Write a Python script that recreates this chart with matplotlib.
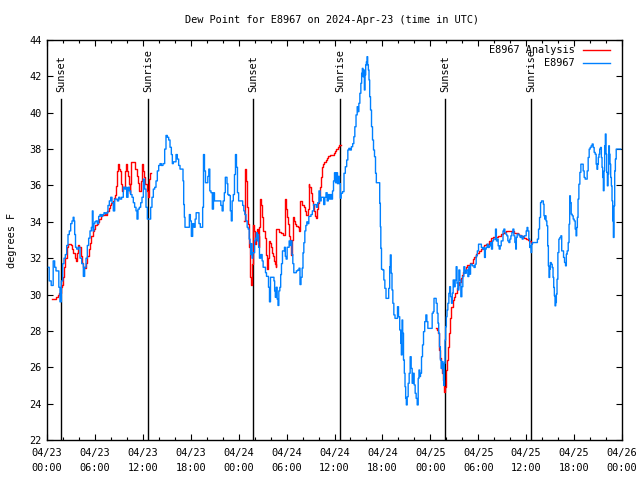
import numpy as np
import matplotlib
matplotlib.use("Agg")
import matplotlib.pyplot as plt
from matplotlib.ticker import MultipleLocator

# ---------------- data (hours since 2024-04-23 00:00 UTC, degrees F) ----------------
obs_t = [0.17, 0.38, 0.67, 0.88, 1.04, 1.21, 1.42, 1.54, 1.71, 1.88, 2.05, 2.21, 2.38, 2.55, 2.71, 2.88,
         3.05, 3.21, 3.34, 3.42, 3.51, 3.63, 3.80, 4.05, 4.22, 4.47, 4.63, 4.80, 4.97, 5.13, 5.30, 5.47,
         5.64, 5.72, 5.80, 5.93, 6.05, 6.22, 6.39, 6.55, 6.72, 6.89, 7.05, 7.22, 7.39, 7.55, 7.72, 7.89,
         8.06, 8.22, 8.39, 8.56, 8.72, 8.89, 9.06, 9.22, 9.47, 9.64, 9.81, 9.89, 10.06, 10.23, 10.39,
         10.56, 10.73, 10.89, 11.06, 11.23, 11.31, 11.48, 11.65, 11.81, 11.98, 12.15, 12.31, 12.48, 12.65,
         12.90, 13.06, 13.23, 13.40, 13.57, 13.73, 13.90, 14.07, 14.23, 14.40, 14.65, 14.82, 14.98, 15.15,
         15.32, 15.49, 15.65, 15.74, 15.90, 16.07, 16.24, 16.40, 16.57, 16.74, 16.99, 17.07, 17.16, 17.24,
         17.32, 17.49, 17.74, 17.91, 17.99, 18.16, 18.32, 18.49,
         18.61, 18.74, 18.95, 19.11, 19.28, 19.45, 19.53, 19.66, 19.78, 19.91, 20.07, 20.20, 20.32, 20.45,
         20.62, 20.78, 20.91, 21.03, 21.24, 21.45, 21.66, 21.87, 21.99, 22.12, 22.29, 22.37, 22.50, 22.58,
         22.70, 22.87, 23.04, 23.12, 23.25, 23.41, 23.54, 23.66, 23.79, 23.91, 24.08, 24.25, 24.42, 24.58,
         24.71, 24.83, 25.00, 25.13, 25.25, 25.38, 25.46, 25.54, 25.63, 25.71, 25.83, 25.96, 26.04, 26.17,
         26.29, 26.38, 26.46, 26.54, 26.67, 26.88, 27.00, 27.13, 27.30, 27.42, 27.55, 27.67, 27.80, 27.92,
         28.05, 28.21, 28.38, 28.46, 28.55, 28.63, 28.76, 28.88, 28.97, 29.09, 29.22, 29.30, 29.42, 29.55,
         29.67, 29.80, 29.88, 30.01, 30.13, 30.26, 30.38, 30.51, 30.63, 30.72, 30.84, 30.97, 31.14, 31.30,
         31.47, 31.64, 31.72, 31.89, 32.01, 32.10, 32.22, 32.35, 32.47, 32.60, 32.72, 32.85, 32.97, 33.14,
         33.31, 33.47, 33.64, 33.81, 33.97, 34.14, 34.27, 34.39, 34.56, 34.73, 34.85, 35.02, 35.14, 35.31,
         35.43, 35.56, 35.69, 35.81, 35.94, 36.06, 36.19, 36.31, 36.44, 36.56, 36.69,
         36.77, 36.90, 37.11, 37.27, 37.44, 37.61, 37.73, 37.86, 38.03, 38.19, 38.36, 38.48, 38.61, 38.78,
         38.90, 38.99, 39.11, 39.24, 39.36, 39.44, 39.53, 39.61, 39.70, 39.78, 39.86, 39.95, 40.03, 40.11,
         40.20, 40.28, 40.36, 40.45, 40.57, 40.70, 40.82, 40.95, 41.07, 41.20, 41.28, 41.62, 41.70, 41.78,
         41.82, 41.95, 42.12, 42.24, 42.37, 42.53, 42.70, 42.87, 42.95, 43.03, 43.16, 43.24, 43.37, 43.49,
         43.66, 43.83, 43.95, 44.08, 44.25, 44.33, 44.41, 44.50, 44.58, 44.70, 44.79, 44.87, 44.95, 45.04,
         45.16, 45.29, 45.41, 45.54, 45.66, 45.79, 45.91, 46.04, 46.16, 46.29, 46.42, 46.54, 46.62, 46.71,
         46.83, 46.96, 47.08, 47.21, 47.38, 47.50, 47.63, 47.75, 48.17, 48.29, 48.42, 48.50, 48.67, 48.79,
         48.92, 49.00, 49.09, 49.21, 49.30, 49.42, 49.55, 49.63, 49.71, 49.80, 49.88, 49.96, 50.05, 50.13,
         50.26, 50.38, 50.46, 50.59, 50.71, 50.80, 50.92, 51.05, 51.17, 51.30, 51.38, 51.51, 51.63, 51.76,
         51.88, 52.01, 52.13, 52.26, 52.38, 52.63, 52.76, 52.88,
         52.97, 53.10, 53.39, 53.55, 53.68, 53.80, 53.97, 54.10, 54.31, 54.47, 54.60, 54.72, 54.85, 54.93,
         55.06, 55.18, 55.31, 55.47, 55.60, 55.72, 55.85, 55.98, 56.10, 56.23, 56.31, 56.43, 56.56, 56.68,
         56.81, 56.94, 57.06, 57.14, 57.27, 57.39, 57.52, 57.64, 57.77, 57.90, 58.02, 58.15, 58.27, 58.40,
         58.52, 58.65, 58.73, 58.81, 58.94, 59.06, 59.19, 59.31, 59.44, 59.56, 59.69, 59.82, 59.94, 60.07,
         60.15, 60.27, 60.40, 60.48, 60.57, 60.65, 60.73, 60.82, 61.15, 61.32, 61.49, 61.61, 61.74, 61.86,
         61.99, 62.11, 62.19, 62.28, 62.36, 62.44, 62.53, 62.65, 62.74, 62.82, 62.90, 62.99, 63.07, 63.20,
         63.32, 63.41, 63.49, 63.57, 63.66, 63.74, 63.82, 63.91, 64.03, 64.16, 64.28, 64.41, 64.49, 64.62,
         64.74, 64.87, 64.99, 65.07, 65.20, 65.33, 65.41, 65.49, 65.58, 65.70, 65.83, 65.95, 66.08, 66.20,
         66.29, 66.37, 66.45, 66.54, 66.66, 66.79, 66.91, 67.08, 67.20, 67.33, 67.45, 67.58, 67.70, 67.83,
         67.95, 68.08, 68.20, 68.33, 68.45, 68.58, 68.70, 68.83, 68.91, 68.99, 69.08, 69.16, 69.25, 69.37,
         69.46, 69.54, 69.62, 69.71, 69.79, 69.87, 69.96, 70.04, 70.13, 70.21, 70.29, 70.38, 70.46, 70.54,
         70.63, 70.71, 70.79, 70.88, 70.96, 71.04, 71.13, 71.21, 71.34, 71.84]
obs_v = [31.5, 30.75, 30.5, 31.85, 31.5, 31.3, 31.3, 30.4, 29.6, 30.75, 31.7, 32.0, 32.2, 32.7, 33.3, 33.5,
         33.9, 34.05, 34.25, 34.05, 33.3, 32.6, 32.5, 32.6, 32.0, 31.7, 31.0, 31.5, 32.0, 32.7, 33.1, 33.5,
         33.7, 34.6, 33.5, 33.9, 34.0, 34.05, 33.9, 34.3, 34.4, 34.3, 34.4, 34.5, 34.45, 34.5, 34.9, 35.15,
         35.35, 35.05, 34.6, 35.25, 35.25, 35.15, 35.35, 35.25, 35.35, 35.9, 35.8, 35.9, 35.35, 35.9, 35.7,
         35.5, 35.35, 35.05, 34.8, 34.6, 34.15, 34.7, 34.8, 35.05, 35.35, 36.35, 35.8, 34.8, 34.15,
         34.15, 34.8, 35.35, 35.8, 35.9, 36.25, 36.8, 37.1, 37.2, 37.1, 37.2, 38.0, 38.75, 38.65,
         38.5, 38.1, 37.7, 37.2, 37.3, 37.3, 37.7, 37.45, 37.1, 36.9, 36.9, 36.25, 34.95, 34.25,
         33.7, 33.7, 33.7, 34.4, 34.05, 33.2, 33.9, 33.7,
         34.15, 34.5, 34.5, 33.9, 33.7, 33.7, 34.8, 37.7, 36.8, 36.15, 36.15, 36.5, 36.9, 35.7,
         35.6, 34.7, 35.6, 35.15, 35.15, 35.15, 35.15, 34.9, 34.6, 35.15, 35.6, 36.45, 36.45, 36.1,
         35.5, 35.45, 34.6, 34.05, 35.15, 35.5, 36.6, 37.7, 37.0, 35.6, 35.15, 35.15, 35.15, 34.9,
         34.6, 34.4, 34.05, 33.7, 33.6, 33.05, 32.8, 32.2, 32.8, 32.0, 32.3, 32.3, 32.95, 33.1,
         33.4, 32.95, 33.3, 32.6, 32.0, 32.2, 31.85, 31.5, 31.5, 31.2, 31.0, 31.0, 30.4, 29.6,
         30.95, 30.95, 30.95, 30.75, 30.2, 29.85, 30.4, 29.75, 29.4, 30.2, 30.4, 31.1, 31.7, 32.4,
         32.4, 32.6, 32.1, 31.95, 32.6, 32.6, 32.95, 32.7, 32.95, 32.2, 31.7, 31.2, 31.2, 31.3,
         31.35, 31.45, 30.55, 30.95, 31.45, 32.3, 32.85, 33.5, 33.8, 34.0, 33.9, 34.3, 34.3, 34.4,
         34.6, 34.95, 34.95, 34.8, 35.05, 35.7, 35.15, 35.35, 35.35, 34.95, 35.35, 35.6, 35.15, 35.5,
         35.25, 35.5, 35.25, 35.7, 36.25, 36.7, 36.15, 36.7, 36.1, 36.5, 36.1,
         35.3, 35.57, 35.66, 36.67, 37.03, 37.4, 37.95, 38.04, 37.95, 38.13, 38.3, 38.68, 39.23, 39.88,
         40.33, 40.06, 40.52, 41.07, 41.62, 42.17, 42.44, 41.98, 42.35, 41.25, 42.08, 42.63, 42.8, 43.08,
         42.63, 42.35, 41.8, 40.88, 40.15, 39.23, 38.5, 37.95, 37.58, 36.67, 36.15, 36.15, 35.02, 33.73,
         32.54, 31.39, 31.35, 30.8, 30.34, 29.79, 29.79, 30.34, 31.53, 32.18, 31.17, 30.25, 29.52, 28.88,
         28.69, 28.69, 29.33, 28.78, 28.05, 27.32, 26.68, 28.6, 27.87, 26.4, 25.67, 24.93, 24.29, 23.93,
         24.38, 25.12, 25.67, 26.58, 25.94, 25.12, 25.67, 25.03, 24.57, 24.29, 23.93, 25.39, 25.85, 25.49,
         25.67, 26.58, 27.23, 27.96, 28.51, 28.88, 28.51, 28.14, 28.14, 28.97, 29.06, 29.79, 29.79, 29.52,
         28.97, 28.42, 27.87, 27.13, 26.4, 25.94, 26.31, 25.67, 25.0, 26.22, 27.5, 28.23, 28.78, 29.15,
         29.52, 30.07, 30.43, 29.88, 29.52, 30.07, 30.8, 30.43, 30.8, 31.53, 30.62, 30.25, 31.35, 30.8,
         29.88, 30.43, 30.99, 31.53, 31.17, 31.35, 30.99, 31.53,
         31.12, 31.67, 31.58, 31.49, 31.67, 32.13, 32.4, 32.77, 32.77, 32.59, 32.5, 32.59, 32.04, 32.5,
         32.59, 32.77, 32.59, 32.68, 32.86, 32.5, 32.95, 33.05, 33.05, 33.6, 32.95, 33.05, 32.68, 32.5,
         32.68, 32.95, 32.95, 33.5, 33.6, 33.41, 33.32, 33.23, 32.95, 32.86, 33.05, 33.23, 33.41, 33.6,
         33.23, 32.86, 32.5, 33.14, 33.32, 33.32, 33.23, 33.14, 33.23, 33.05, 33.14, 33.23, 33.23, 33.5,
         33.69, 33.5, 33.05, 32.59, 32.68, 32.31, 32.77, 32.86, 32.86, 32.86, 33.05, 33.6, 34.24, 35.06,
         35.15, 35.15, 34.97, 34.33, 34.15, 34.33, 34.05, 33.78, 32.68, 31.58, 30.94, 31.4, 31.76, 31.67,
         31.49, 30.94, 30.39, 29.93, 29.38, 29.56, 30.02, 30.84, 32.31, 33.05, 33.14, 33.23, 32.4, 32.4,
         32.04, 31.76, 31.58, 32.22, 32.4, 32.86, 33.87, 35.43, 35.06, 34.42, 34.33, 34.15, 34.05, 33.6,
         33.23, 33.69, 34.24, 35.25, 36.07, 36.72, 37.17, 37.17, 36.8, 36.44, 36.35, 36.35, 36.8, 37.54,
         38.0, 38.09, 38.18, 38.28, 38.09, 37.82, 37.72, 37.17, 36.89, 37.17, 37.54, 37.72, 38.0, 38.09,
         37.54, 36.99, 36.44, 35.71, 36.8, 38.18, 38.83, 37.72, 36.72, 35.98, 36.62, 38.18, 37.72, 37.17,
         36.44, 35.98, 35.15, 34.05, 33.14, 34.88, 36.8, 37.45, 38.0, 38.0]

ana1_t = [0.58, 1.00, 1.21, 1.42, 1.63, 1.79, 1.92, 2.05, 2.21, 2.38, 2.55, 2.71, 2.88, 3.05, 3.21, 3.38,
          3.55, 3.72, 3.84, 3.97, 4.13, 4.30, 4.47, 4.63, 4.80, 4.97, 5.13, 5.30, 5.47, 5.64, 5.80, 5.97,
          6.14, 6.30, 6.47, 6.64, 6.80, 6.97, 7.14, 7.30, 7.47, 7.64, 7.81, 7.97, 8.14, 8.31, 8.47, 8.64,
          8.72, 8.85, 8.97, 9.10, 9.22, 9.35, 9.47, 9.64, 9.81, 9.93, 10.06, 10.23, 10.31, 10.39, 10.52,
          10.64, 10.98, 11.14, 11.31, 11.48, 11.65, 11.77, 11.94, 12.06, 12.23, 12.40, 12.56, 12.69, 12.81,
          12.98]
ana1_v = [29.74, 29.74, 29.87, 30.0, 30.1, 30.4, 30.5, 30.95, 31.5, 32.0, 32.6, 32.8, 32.8, 32.7, 32.5, 32.3,
          32.0, 31.85, 32.3, 32.7, 32.6, 32.1, 31.75, 31.5, 31.45, 31.75, 32.1, 32.5, 32.85, 33.2, 33.5, 33.6,
          33.8, 33.9, 34.0, 34.15, 34.3, 34.35, 34.4, 34.5, 34.4, 34.6, 34.75, 34.95, 35.05, 35.15, 35.3, 35.5,
          35.98, 36.8, 37.2, 36.9, 36.8, 36.1, 35.7, 35.9, 36.8, 37.2, 36.8, 36.5, 36.1, 35.6, 36.1,
          37.3, 37.3, 36.9, 36.5, 36.15, 35.7, 36.25, 37.2, 36.8, 36.45, 36.1, 35.7, 35.35, 36.35,
          36.7]

ana2_t = [24.71, 24.79, 24.92, 25.04, 25.13, 25.25, 25.33, 25.42, 25.54, 25.63, 25.71, 25.79, 25.88, 26.00,
          26.13, 26.25, 26.38, 26.46, 26.54, 26.67, 26.79, 26.92, 27.04, 27.17, 27.30, 27.42, 27.55, 27.63,
          27.71, 27.84, 27.96, 28.09, 28.21, 28.34, 28.46, 28.59, 28.67, 28.76, 29.22, 29.47, 29.72, 29.84,
          30.01, 30.13, 30.30, 30.43, 30.55, 30.63, 30.72, 30.84, 30.97, 31.14, 31.30, 31.47, 31.64, 31.72,
          31.89, 32.05, 32.22, 32.39, 32.55, 32.72, 32.80, 32.93, 33.06, 33.18, 33.31, 33.43, 33.56, 33.68,
          33.81, 33.93, 34.06, 34.18, 34.31, 34.43, 34.56, 34.68, 34.81, 34.98, 35.14, 35.31, 35.48, 35.64,
          35.81, 35.98, 36.14, 36.31, 36.48, 36.65, 36.81]
ana2_v = [34.05, 35.9, 36.9, 36.25, 34.8, 33.9, 32.6, 31.5, 30.95, 30.55, 31.7, 32.95, 33.8, 33.5,
          32.8, 33.4, 33.6, 33.2, 32.6, 33.7, 35.25, 34.9, 34.25, 33.5, 33.1, 32.6, 32.2, 31.4,
          32.0, 32.95, 32.85, 32.6, 32.3, 32.1, 31.85, 31.7, 31.5, 33.6, 33.45, 33.4, 33.3, 35.25,
          34.7, 34.25, 33.9, 33.2, 33.0, 32.2, 33.0, 34.25, 34.05, 33.9, 33.75, 33.7, 33.5, 35.15,
          35.15, 34.95, 34.8, 34.6, 34.4, 34.7, 36.1, 35.9, 35.6, 35.35, 35.15, 34.95, 34.6, 34.3,
          34.2, 34.7, 35.05, 35.35, 35.9, 36.45, 37.0, 37.2, 37.3, 37.4, 37.5, 37.6, 37.7, 37.7,
          37.7, 37.8, 37.9, 38.0, 38.1, 38.2, 38.2]

ana3_t = [48.71, 48.88, 48.96, 49.09, 49.17, 49.25, 49.34, 49.46, 49.59, 49.71, 49.80, 49.88, 49.96, 50.05,
          50.17, 50.30, 50.46, 50.59, 50.71, 50.88, 51.05, 51.22, 51.38, 51.55, 51.72, 51.88, 52.05, 52.22,
          52.38, 52.55, 52.72, 53.18, 53.39, 53.60, 53.80, 54.01, 54.22, 54.43, 54.64, 54.85, 55.06, 55.27,
          55.47, 55.68, 55.89, 56.10, 56.31, 56.52, 56.73, 56.94, 57.14, 57.35, 57.56, 57.77, 58.19, 58.40,
          58.61, 58.81, 59.02, 59.23, 59.44, 59.65, 59.86, 60.07, 60.27, 60.48, 60.69]
ana3_v = [28.14, 28.05, 27.87, 27.4, 26.95, 26.5, 25.94, 25.67, 25.3, 24.84, 24.66, 24.93, 25.12, 25.85,
          26.4, 27.13, 27.87, 28.69, 29.33, 29.7, 29.88, 30.07, 30.34, 30.53, 30.71, 30.89, 31.08, 31.26,
          31.35, 31.53, 31.63, 31.76, 31.94, 32.04, 32.22, 32.31, 32.4, 32.5, 32.62, 32.73, 32.77, 32.8,
          32.95, 33.1, 33.14, 33.14, 33.17, 33.2, 33.23, 33.32, 33.36, 33.43, 33.47, 33.5, 33.5, 33.47,
          33.41, 33.36, 33.32, 33.27, 33.23, 33.17, 33.1, 33.05, 32.99, 32.92, 32.86]

sun_t = [1.8, 12.69, 25.83, 36.72, 49.88, 60.65]
sun_labels = ["Sunset", "Sunrise", "Sunset", "Sunrise", "Sunset", "Sunrise"]

xtick_hours = [0, 6, 12, 18, 24, 30, 36, 42, 48, 54, 60, 66, 72]
xtick_labels = ["04/23\n00:00", "04/23\n06:00", "04/23\n12:00", "04/23\n18:00",
                "04/24\n00:00", "04/24\n06:00", "04/24\n12:00", "04/24\n18:00",
                "04/25\n00:00", "04/25\n06:00", "04/25\n12:00", "04/25\n18:00",
                "04/26\n00:00"]
yticks = [22, 24, 26, 28, 30, 32, 34, 36, 38, 40, 42, 44]

title = "Dew Point for E8967 on 2024-Apr-23 (time in UTC)"
ylabel = "degrees F"
legend_labels = ["E8967 Analysis", "E8967"]

# ---------------- drawing ----------------
RED = "#ff0000"
BLUE = "#0080ff"
FONT = "DejaVu Sans Mono"
FS = 7.4

plt.rcParams['font.family'] = [FONT]
fig = plt.figure(figsize=(6.4, 4.8), dpi=100)
ax = fig.add_axes([47/640, 40/480, 575/640, 400/480])

for seg_t, seg_v in ((ana1_t, ana1_v), (ana2_t, ana2_v), (ana3_t, ana3_v)):
    ax.plot(seg_t, seg_v, color=RED, lw=1.0, zorder=3, drawstyle="steps-mid")
ax.plot(obs_t, obs_v, color=BLUE, lw=1.0, zorder=4, drawstyle="steps-mid")

for st, sl in zip(sun_t, sun_labels):
    ax.plot([st, st], [22, 40.75], color="black", lw=1.0, zorder=2)
    ax.text(st, 41.15, sl, rotation=90, ha="center", va="bottom",
            fontsize=FS, family=FONT)

ax.set_xlim(0, 72)
ax.set_ylim(22, 44)
ax.set_xticks(xtick_hours)
ax.set_xticklabels(xtick_labels, fontsize=FS, linespacing=1.55)
ax.xaxis.set_minor_locator(MultipleLocator(2))
ax.set_yticks(yticks)
ax.set_yticklabels([str(v) for v in yticks], fontsize=FS)
ax.tick_params(which="both", direction="in", top=True, right=True, color="black")
ax.tick_params(which="major", length=4.5, width=0.8, pad=4)
ax.tick_params(axis="x", which="major", pad=6)
ax.tick_params(which="minor", length=2.5, width=0.8)
for sp in ax.spines.values():
    sp.set_linewidth(1.0)
    sp.set_color("black")

fig.text(332/640, 1 - 20/480, title, ha="center", va="center", fontsize=FS, family=FONT)
fig.text(12/640, 1 - 240/480, ylabel, rotation=90, ha="center", va="center", fontsize=FS, family=FONT)

# legend (gnuplot style: right-aligned text, sample line to the right)
for i, (lab, col) in enumerate(zip(legend_labels, [RED, BLUE])):
    yy = 0.975 - i * 0.0325
    ax.text(0.918, yy, lab, transform=ax.transAxes, ha="right", va="center",
            fontsize=FS, family=FONT, zorder=6)
    ax.plot([0.932, 0.979], [yy, yy], transform=ax.transAxes, color=col, lw=1.0, zorder=6)

fig.savefig("out.png", dpi=100)
